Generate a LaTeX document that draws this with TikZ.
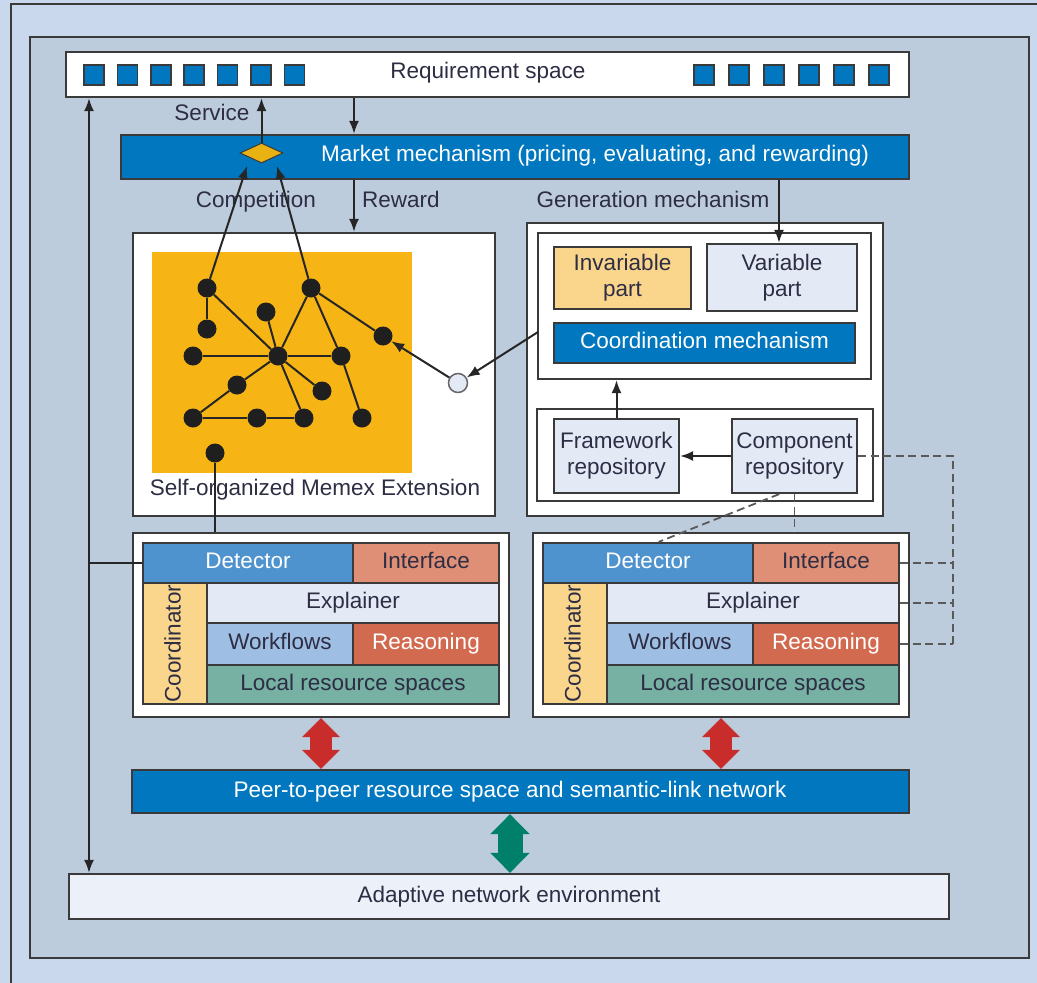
\documentclass[tikz,border=0pt]{standalone}
\usepackage{fontspec}
\setmainfont{Liberation Sans}
\usetikzlibrary{arrows.meta,shapes.geometric,calc}
\definecolor{bgouter}{HTML}{C9D8EC}
\definecolor{panel}{HTML}{BDCCDD}
\definecolor{bdr}{HTML}{3A3A3A}
\definecolor{mblue}{HTML}{0077BE}
\definecolor{gold}{HTML}{E9B213}
\definecolor{orng}{HTML}{F6B415}
\definecolor{ltblue}{HTML}{E3EAF6}
\definecolor{ltorange}{HTML}{FAD58C}
\definecolor{detc}{HTML}{4E92CE}
\definecolor{intc}{HTML}{DE8F76}
\definecolor{wfc}{HTML}{9FBEE3}
\definecolor{reasc}{HTML}{D26A50}
\definecolor{locc}{HTML}{76B1A4}
\definecolor{fred}{HTML}{C82D2B}
\definecolor{fgreen}{HTML}{00806A}
\definecolor{tdark}{HTML}{2D2D44}
\newcommand\fs{\fontsize{22.5}{26}\selectfont}
\begin{document}
\begin{tikzpicture}[x=1pt,y=-1pt,
  box/.style={draw=bdr, line width=2.2pt, inner sep=0pt, font=\fs, text=tdark, align=center},
  txt/.style={font=\fs, text=tdark, inner sep=0pt, align=center},
  wtxt/.style={font=\fs, text=white, inner sep=0pt, align=center},
  one/.style={text height=16pt, text depth=5pt},
  conn/.style={line width=2pt, draw=black!85},
  arr/.style={conn, -{Latex[length=13pt,width=10pt]}},
  dashc/.style={line width=1.8pt, draw=black!65, dash pattern=on 8pt off 4.5pt},
  gdot/.style={circle, fill=black!88, minimum size=19pt, inner sep=0pt},
  sq/.style={draw=bdr, line width=1.5pt, fill=mblue, minimum size=20pt, inner sep=0pt},
  fatred/.style={line width=22pt, draw=fred, {Triangle[length=19pt,width=37pt]}-{Triangle[length=19pt,width=37pt]}},
  fatgreen/.style={line width=25pt, draw=fgreen, {Triangle[length=20pt,width=38pt]}-{Triangle[length=20pt,width=38pt]}}
]
\useasboundingbox (0,0) rectangle (1037,983);
% backgrounds
\fill[bgouter] (0,0) rectangle (1037,983);
\draw[bdr, line width=1.8pt] (11,983) -- (11,4) -- (1037,4);
\node[draw=bdr, line width=2pt, fill=panel, minimum width=999, minimum height=921, inner sep=0pt] (panelbox) at (529.5,497.5) {};

% requirement space
\node[box, fill=white, minimum width=843, minimum height=45] (req) at (487.5,74.5) {};
\node[txt, one] (reqtxt) at (488,73) {Requirement space};
\foreach \i in {0,...,6} {\node[sq] (ls\i) at ({94+33.4*\i},75) {};}
\foreach \i in {0,...,5} {\node[sq] (rs\i) at ({704+35*\i},75) {};}

% market
\node[box, fill=mblue, minimum width=788, minimum height=44] (market) at (515,157) {};
\node[wtxt, one] (markettxt) at (595,156) {Market mechanism (pricing, evaluating, and rewarding)};
\node[diamond, draw=bdr, line width=1pt, fill=gold, minimum width=43, minimum height=20, inner sep=0pt] (dia) at (261.5,153) {};

% labels
\node[txt, one] (servicelbl) at (212,115) {Service};
\node[txt, one] (complbl) at (256,202) {Competition};
\node[txt, one] (rewardlbl) at (401,202) {Reward};
\node[txt, one] (genlbl) at (653,202) {Generation mechanism};

% memex
\node[box, fill=white, minimum width=362, minimum height=283] (memex) at (314,374.5) {};
\fill[orng] (152,252) rectangle (412,473);
\node[txt, one] (memexlbl) at (315,490) {Self-organized Memex Extension};

% graph nodes
\node[gdot] (A) at (207,288) {};
\node[gdot] (B) at (207,329) {};
\node[gdot] (C) at (266,312) {};
\node[gdot] (D) at (311,288) {};
\node[gdot] (E) at (383,336) {};
\node[gdot] (F) at (193,356) {};
\node[gdot] (G) at (278,356) {};
\node[gdot] (H) at (341,356) {};
\node[gdot] (I) at (237,385) {};
\node[gdot] (J) at (322,391) {};
\node[gdot] (K) at (193,418) {};
\node[gdot] (L) at (257,418) {};
\node[gdot] (M) at (304,418) {};
\node[gdot] (N) at (362,418) {};
\node[gdot] (O) at (215,453) {};
\foreach \a/\b in {A/B,A/G,C/G,D/G,D/H,D/E,F/G,G/H,G/I,I/K,K/L,L/M,G/M,G/J,H/N}
  \draw[conn] (\a) -- (\b);
\node[circle, draw=black!60, line width=1.5pt, fill=ltblue, minimum size=19pt, inner sep=0pt] (circ) at (458,383) {};

% generation mechanism
\node[box, fill=white, minimum width=356, minimum height=293] (genout) at (705,369.5) {};
\node[box, fill=white, minimum width=333, minimum height=146] (gentop) at (704.5,306) {};
\node[box, fill=ltorange, minimum width=137, minimum height=62] (invar) at (622.5,278) {Invariable\\part};
\node[box, fill=ltblue, minimum width=150, minimum height=67] (var) at (782,277.5) {Variable\\part};
\node[box, one, fill=mblue, text=white, minimum width=301, minimum height=40] (coordmech) at (704.5,343) {Coordination mechanism};
\node[box, fill=white, minimum width=336, minimum height=92] (genbot) at (705,455) {};
\node[box, fill=ltblue, minimum width=125, minimum height=74] (frame) at (616.5,456) {Framework\\repository};
\node[box, fill=ltblue, minimum width=125, minimum height=74] (comp) at (794.5,456) {Component\\repository};

% modules
\foreach \s/\dx in {L/0,R/400} {
  \node[box, fill=white, minimum width=376, minimum height=184] (mod\s) at ({321+\dx},625) {};
  \node[box, one, fill=detc, text=white, minimum width=210, minimum height=40] (det\s) at ({248+\dx},563) {Detector};
  \node[box, one, fill=intc, minimum width=146, minimum height=40] (int\s) at ({426+\dx},563) {Interface};
  \node[box, fill=ltorange, minimum width=64, minimum height=121] (coord\s) at ({175+\dx},643.5) {};
  \node[txt, one, rotate=90] (coordtxt\s) at (coord\s) {Coordinator};
  \node[box, one, fill=ltblue, minimum width=292, minimum height=40] (exp\s) at ({353+\dx},603) {Explainer};
  \node[box, one, fill=wfc, minimum width=146, minimum height=42] (wf\s) at ({280+\dx},644) {Workflows};
  \node[box, one, fill=reasc, text=white, minimum width=146, minimum height=42] (reas\s) at ({426+\dx},644) {Reasoning};
  \node[box, one, fill=locc, minimum width=292, minimum height=39] (loc\s) at ({353+\dx},684.5) {Local resource spaces};
}

% bottom bars
\node[box, fill=mblue, minimum width=777, minimum height=43] (p2p) at (520.5,791.5) {};
\node[wtxt, one] (p2ptxt) at (510,792) {Peer-to-peer resource space and semantic-link network};
\node[box, one, fill=ltblue!70!white, minimum width=880, minimum height=45] (adapt) at (509,896.5) {Adaptive network environment};

% helper coordinates
\coordinate (xa) at (354,0);
\coordinate (xv) at (779,0);
\coordinate (xl) at (89,0);
\coordinate (xg) at (510,0);
\coordinate (xd) at (953,0);
\coordinate (ca) at (247,166);
\coordinate (cb) at (277,166);
\coordinate (gs) at (538,332);

% connectors
\draw[arr] (dia.north) -- (dia.north |- req.south);
\draw[arr] (req.south -| xa) -- (market.north -| xa);
\draw[arr] (market.south -| xa) -- (memex.north -| xa);
\draw[arr] (market.south -| xv) -- (var.north -| xv);
\draw[arr] (A) -- (ca);
\draw[arr] (D) -- (cb);
\draw[conn, {Latex[length=13pt,width=10pt]}-{Latex[length=13pt,width=10pt]}] (req.south -| xl) -- (adapt.north -| xl);
\draw[conn] (detL.west) -- (detL.west -| xl);
\draw[conn] (O) -- (O |- modL.north);
\draw[arr] (gs) -- (circ);
\draw[arr] (circ) -- (E);
\draw[arr] (frame.north) -- (frame.north |- gentop.south);
\draw[arr] (comp.west) -- (frame.east);

% dashed links
\draw[dashc] (comp.east) -- (comp.east -| xd) -- (reasR.east -| xd);
\draw[dashc] (intR.east) -- (intR.east -| xd);
\draw[dashc] (expR.east) -- (expR.east -| xd);
\draw[dashc] (reasR.east) -- (reasR.east -| xd);
\draw[dashc] (comp.south) -- (comp.south |- modR.north);
\draw[dashc] ($(comp.south west)!0.38!(comp.south east)$) -- ($(detR.north west)!0.55!(detR.north east)$);

% fat arrows
\draw[fatred] (modL.south) -- (modL.south |- p2p.north);
\draw[fatred] (modR.south) -- (modR.south |- p2p.north);
\draw[fatgreen] (p2p.south -| xg) -- (adapt.north -| xg);
\end{tikzpicture}
\end{document}
